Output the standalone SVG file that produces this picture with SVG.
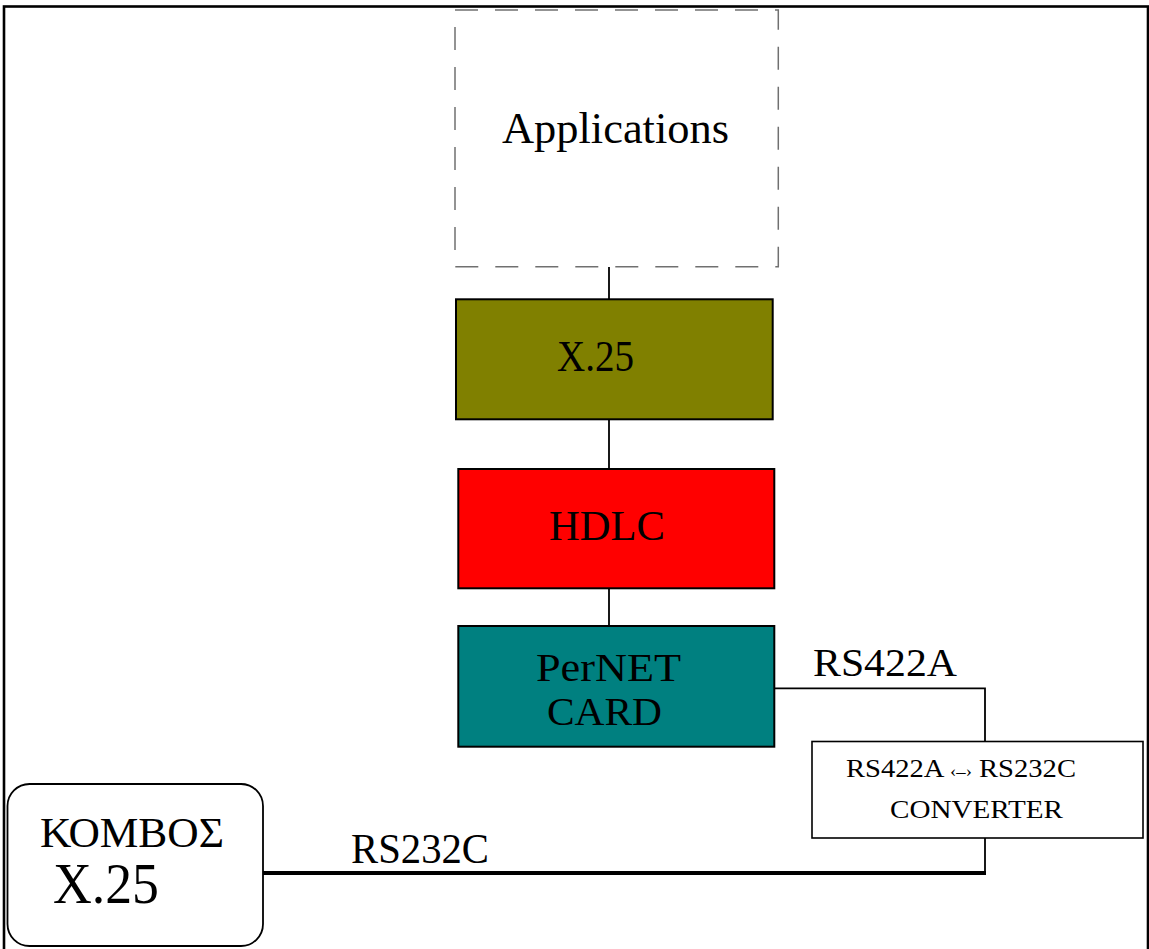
<svg xmlns="http://www.w3.org/2000/svg" width="1149" height="949" viewBox="0 0 1149 949">
  <style>
    text { font-family: "Liberation Serif", "Times New Roman", serif; fill: #000; }
    .box { stroke: #000; stroke-width: 2; }
    .line { stroke: #000; stroke-width: 1.8; fill: none; }
  </style>
  <rect x="0" y="0" width="1149" height="949" fill="#fff"/>
  <rect id="frame" x="4" y="6.5" width="1144" height="980" fill="none" stroke="#000" stroke-width="2.6"/>

  <g id="connectors">
    <line class="line" x1="609" y1="267" x2="609" y2="299"/>
    <line class="line" x1="609" y1="420" x2="609" y2="469"/>
    <line class="line" x1="609" y1="588" x2="609" y2="626"/>
    <polyline class="line" points="775,688.3 985,688.3 985,741.5"/>
    <line class="line" x1="985" y1="838" x2="985" y2="873"/>
    <line x1="263" y1="873" x2="986" y2="873" stroke="#000" stroke-width="4"/>
    <text x="813" y="676" font-size="40" textLength="144" lengthAdjust="spacingAndGlyphs">RS422A</text>
    <text x="351" y="863" font-size="42" textLength="138" lengthAdjust="spacingAndGlyphs">RS232C</text>
  </g>

  <g id="applications">
    <rect x="455" y="10" width="323.3" height="256.7" fill="#fff" stroke="#707070" stroke-width="1.5" stroke-dasharray="23 17"/>
    <text x="502" y="143" font-size="44" textLength="227" lengthAdjust="spacingAndGlyphs">Applications</text>
  </g>

  <g id="x25">
    <rect class="box" x="456" y="299.3" width="316.7" height="120" fill="#808000"/>
    <text x="557" y="371" font-size="44" textLength="77" lengthAdjust="spacingAndGlyphs">X.25</text>
  </g>

  <g id="hdlc">
    <rect class="box" x="458.3" y="469" width="316" height="119.3" fill="#ff0000"/>
    <text x="549" y="540" font-size="42" textLength="116" lengthAdjust="spacingAndGlyphs">HDLC</text>
  </g>

  <g id="pernet">
    <rect class="box" x="458.3" y="626" width="316" height="120.7" fill="#008080"/>
    <text x="536" y="681" font-size="40" textLength="145" lengthAdjust="spacingAndGlyphs">PerNET</text>
    <text x="547" y="725" font-size="40" textLength="115" lengthAdjust="spacingAndGlyphs">CARD</text>
  </g>

  <g id="converter">
    <rect x="812" y="741.5" width="331" height="96.5" fill="#fff" stroke="#000" stroke-width="1.6"/>
    <text x="846" y="777" font-size="26" textLength="230" lengthAdjust="spacingAndGlyphs">RS422A <tspan font-size="17">‹–›</tspan> RS232C</text>
    <text x="890" y="818" font-size="26" textLength="173" lengthAdjust="spacingAndGlyphs">CONVERTER</text>
  </g>

  <g id="kombos">
    <rect x="7.5" y="784" width="255.5" height="162" rx="22" ry="22" fill="#fff" stroke="#000" stroke-width="1.8"/>
    <text x="40" y="847" font-size="42" textLength="184" lengthAdjust="spacingAndGlyphs">ΚΟΜΒΟΣ</text>
    <text x="53" y="903" font-size="56" textLength="106" lengthAdjust="spacingAndGlyphs">X.25</text>
  </g>
</svg>
